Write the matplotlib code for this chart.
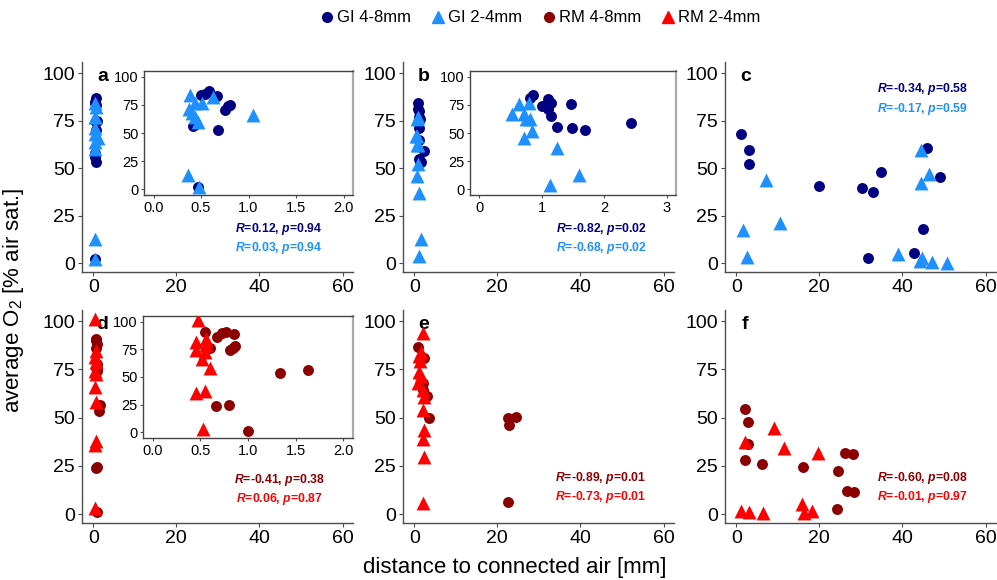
import matplotlib
matplotlib.use('Agg')
import matplotlib.pyplot as plt
from matplotlib.lines import Line2D

plt.rcParams['font.family'] = ['Liberation Sans', 'DejaVu Sans']
plt.rcParams['mathtext.fontset'] = 'custom'
plt.rcParams['mathtext.rm'] = 'Liberation Sans'
plt.rcParams['mathtext.it'] = 'Liberation Sans:italic'
plt.rcParams['mathtext.bf'] = 'Liberation Sans:bold:italic'

c_gi48 = '#000080'
c_gi24 = '#1E90FF'
c_rm48 = '#8B0000'
c_rm24 = '#FF0000'
axis_col = '#4d4d4d'

# panel a: GI, site 1
a_big_x = [0.50, 0.54, 0.58, 0.67, 0.75, 0.78, 0.80, 0.68, 0.42, 0.45, 0.47]
a_big_y = [84, 85, 87, 83, 70, 74, 75, 53, 56, 58, 2]
a_small_x = [0.38, 0.37, 0.41, 0.44, 0.47, 0.44, 0.51, 0.63, 1.05, 0.36, 0.48]
a_small_y = [84, 71, 68, 64, 60, 77, 77, 82, 66, 13, 2]
a_stats = ['$\\mathbf{R}$=0.12, $\\mathbf{p}$=0.94', '$\\mathbf{R}$=0.03, $\\mathbf{p}$=0.94']

# panel b: GI, site 2
b_big_x = [0.86, 0.81, 1.10, 1.01, 1.15, 1.10, 1.15, 1.24, 1.47, 1.48, 1.70, 2.43]
b_big_y = [84, 81, 80, 74, 77, 71, 65, 55, 76, 54, 53, 59]
b_small_x = [0.52, 0.63, 0.79, 0.71, 0.74, 0.81, 0.84, 0.71, 1.24, 1.13, 1.60]
b_small_y = [67, 76, 77, 67, 62, 62, 52, 46, 37, 4, 13]
b_stats = ['$\\mathbf{R}$=-0.82, $\\mathbf{p}$=0.02', '$\\mathbf{R}$=-0.68, $\\mathbf{p}$=0.02']

# panel c: GI, site 3
c_big_x = [1.1, 3.1, 3.1, 19.8, 30.2, 32.9, 34.8, 46.0, 49.1, 44.9, 31.6, 42.8]
c_big_y = [67.7, 59.6, 52.4, 40.4, 39.7, 37.3, 48.1, 60.8, 45.5, 17.9, 2.9, 5.5]
c_small_x = [1.7, 2.7, 7.1, 10.5, 39.0, 44.4, 44.4, 46.3, 44.1, 47.1, 50.8, 44.6]
c_small_y = [17.5, 3.3, 43.8, 21.0, 5.0, 59.6, 42.4, 46.7, 1.2, 0.9, 0.3, 2.5]
c_stats = ['$\\mathbf{R}$=-0.34, $\\mathbf{p}$=0.58', '$\\mathbf{R}$=-0.17, $\\mathbf{p}$=0.59']

# panel d: RM, site 1
d_big_x = [0.55, 0.68, 0.73, 0.77, 0.855, 0.60, 0.81, 0.845, 0.866, 0.66, 0.80, 0.995, 1.34, 1.63]
d_big_y = [91, 86, 90, 90.5, 88.4, 75.7, 74, 75.7, 77.7, 23.7, 24.6, 0.9, 53.4, 56.4]
d_small_x = [0.48, 0.46, 0.45, 0.565, 0.565, 0.55, 0.52, 0.60, 0.45, 0.55, 0.53]
d_small_y = [101, 81.6, 74, 84.6, 78.6, 72.7, 65.9, 57.9, 35.6, 37.7, 3]
d_stats = ['$\\mathbf{R}$=-0.41, $\\mathbf{p}$=0.38', '$\\mathbf{R}$=0.06, $\\mathbf{p}$=0.87']

# panel e: RM, site 2
e_big_x = [0.8, 2.25, 2.0, 2.0, 3.06, 3.5, 22.5, 22.8, 24.6, 22.5]
e_big_y = [86.8, 80.9, 68, 64.4, 61.3, 50, 49.7, 46, 50.3, 6.3]
e_small_x = [2.0, 1.2, 1.6, 1.4, 1.2, 1.6, 1.0, 2.0, 2.4, 2.0, 2.4, 2.0, 2.4, 2.0]
e_small_y = [94, 81.9, 84, 79.5, 73.5, 71.5, 68, 64.4, 60.8, 54, 43.6, 39, 29.5, 5.7]
e_stats = ['$\\mathbf{R}$=-0.89, $\\mathbf{p}$=0.01', '$\\mathbf{R}$=-0.73, $\\mathbf{p}$=0.01']

# panel f: RM, site 3
f_big_x = [2.0, 2.8, 2.8, 2.2, 6.1, 16.0, 24.5, 26.1, 28.1, 26.7, 28.3, 24.3]
f_big_y = [54.5, 47.8, 36.4, 27.8, 25.8, 24.5, 22.3, 31.8, 31.4, 12.0, 11.7, 2.6]
f_small_x = [2.0, 9.1, 11.5, 19.6, 1.2, 3.1, 6.5, 15.8, 16.3, 18.2]
f_small_y = [37.3, 44.8, 34.5, 31.6, 1.4, 0.9, 0.5, 5.2, 0.5, 1.4]
f_stats = ['$\\mathbf{R}$=-0.60, $\\mathbf{p}$=0.08', '$\\mathbf{R}$=-0.01, $\\mathbf{p}$=0.97']

main_xticks = [0, 20, 40, 60]
yticks = [0, 25, 50, 75, 100]

W, H = 997, 580
fig = plt.figure(figsize=(W / 100, H / 100), dpi=100)


def px_axes(left, top, right, bottom):
    return fig.add_axes([left / W, 1 - bottom / H, (right - left) / W, (bottom - top) / H])


def draw_points(ax, bx, by, sx, sy, cbig, csmall):
    ax.scatter(bx, by, s=62, marker='o', color=cbig, linewidths=0, zorder=3)
    ax.scatter(sx, sy, s=100, marker='^', color=csmall, linewidths=0, zorder=4)


def main_panel(left, top, bottom, letter, bx, by, sx, sy, cbig, csmall):
    ax = px_axes(left, top, left + 271, bottom)
    draw_points(ax, bx, by, sx, sy, cbig, csmall)
    ax.set_xlim(-2.7, 62.5)
    ax.set_ylim(-4.6, 105.8)
    ax.set_xticks(main_xticks)
    ax.set_yticks(yticks)
    for s in ['top', 'right']:
        ax.spines[s].set_visible(False)
    for s in ['left', 'bottom']:
        ax.spines[s].set_color(axis_col)
        ax.spines[s].set_linewidth(1.0)
    ax.tick_params(length=3, color=axis_col, labelsize=14, pad=2, labelcolor='black')
    ax.text(0.075, 0.93, letter, transform=ax.transAxes, fontsize=14,
            fontweight='bold', ha='center', va='center')
    return ax


def inset_panel(left, top, right, bottom, bx, by, sx, sy, cbig, csmall, xlim, xticks, xlabels):
    ax = px_axes(left, top, right, bottom)
    draw_points(ax, bx, by, sx, sy, cbig, csmall)
    ax.set_xlim(*xlim)
    ax.set_ylim(-5, 105)
    ax.set_xticks(xticks)
    ax.set_xticklabels(xlabels)
    ax.set_yticks(yticks)
    for s in ['top', 'left', 'bottom']:
        ax.spines[s].set_color('#444444')
        ax.spines[s].set_linewidth(1.0)
    ax.spines['right'].set_color('#aaaaaa')
    ax.spines['right'].set_linewidth(1.6)
    ax.tick_params(length=2.5, color=axis_col, labelsize=10.5, pad=1.5, labelcolor='black')
    return ax


def stats_text(xc, y1, y2, lines, c1, c2):
    fig.text(xc / W, 1 - y1 / H, lines[0], color=c1, fontsize=8.8,
             fontweight='bold', ha='center', va='center')
    fig.text(xc / W, 1 - y2 / H, lines[1], color=c2, fontsize=8.8,
             fontweight='bold', ha='center', va='center')


# top row (GI)
main_panel(82, 62, 272, 'a', a_big_x, a_big_y, a_small_x, a_small_y, c_gi48, c_gi24)
main_panel(403, 62, 272, 'b', b_big_x, b_big_y, b_small_x, b_small_y, c_gi48, c_gi24)
main_panel(725, 62, 272, 'c', c_big_x, c_big_y, c_small_x, c_small_y, c_gi48, c_gi24)
# bottom row (RM)
main_panel(82, 310, 523, 'd', d_big_x, d_big_y, d_small_x, d_small_y, c_rm48, c_rm24)
main_panel(403, 310, 523, 'e', e_big_x, e_big_y, e_small_x, e_small_y, c_rm48, c_rm24)
main_panel(725, 310, 523, 'f', f_big_x, f_big_y, f_small_x, f_small_y, c_rm48, c_rm24)

# zoomed insets
inset_panel(144, 71, 353, 195, a_big_x, a_big_y, a_small_x, a_small_y, c_gi48, c_gi24,
            (-0.1, 2.1), [0, 0.5, 1, 1.5, 2], ['0.0', '0.5', '1.0', '1.5', '2.0'])
inset_panel(470, 71, 676, 195, b_big_x, b_big_y, b_small_x, b_small_y, c_gi48, c_gi24,
            (-0.15, 3.15), [0, 1, 2, 3], ['0', '1', '2', '3'])
inset_panel(143, 316, 353, 438, d_big_x, d_big_y, d_small_x, d_small_y, c_rm48, c_rm24,
            (-0.1, 2.1), [0, 0.5, 1, 1.5, 2], ['0.0', '0.5', '1.0', '1.5', '2.0'])

stats_text(279, 229, 248, a_stats, c_gi48, c_gi24)
stats_text(601, 229, 248, b_stats, c_gi48, c_gi24)
stats_text(922, 89, 109, c_stats, c_gi48, c_gi24)
stats_text(279, 480, 499, d_stats, c_rm48, c_rm24)
stats_text(600, 478, 497, e_stats, c_rm48, c_rm24)
stats_text(922, 478, 497, f_stats, c_rm48, c_rm24)

fig.text(14 / W, 1 - 300 / H, 'average O$_2$ [% air sat.]', rotation=90,
         fontsize=16, ha='center', va='center')
fig.text(515 / W, 1 - 567 / H, 'distance to connected air [mm]',
         fontsize=16, ha='center', va='center')

handles = [
    Line2D([], [], marker='o', linestyle='', color=c_gi48, markersize=7, label='GI 4-8mm'),
    Line2D([], [], marker='^', linestyle='', color=c_gi24, markersize=8, label='GI 2-4mm'),
    Line2D([], [], marker='o', linestyle='', color=c_rm48, markersize=7, label='RM 4-8mm'),
    Line2D([], [], marker='^', linestyle='', color=c_rm24, markersize=8, label='RM 2-4mm'),
]
fig.legend(handles=handles, loc='center', ncol=4, frameon=False,
           bbox_to_anchor=(541 / W, 1 - 18 / H), fontsize=12,
           handlelength=0.6, handletextpad=0.3, columnspacing=1.3)

fig.savefig('out.png', dpi=100)
